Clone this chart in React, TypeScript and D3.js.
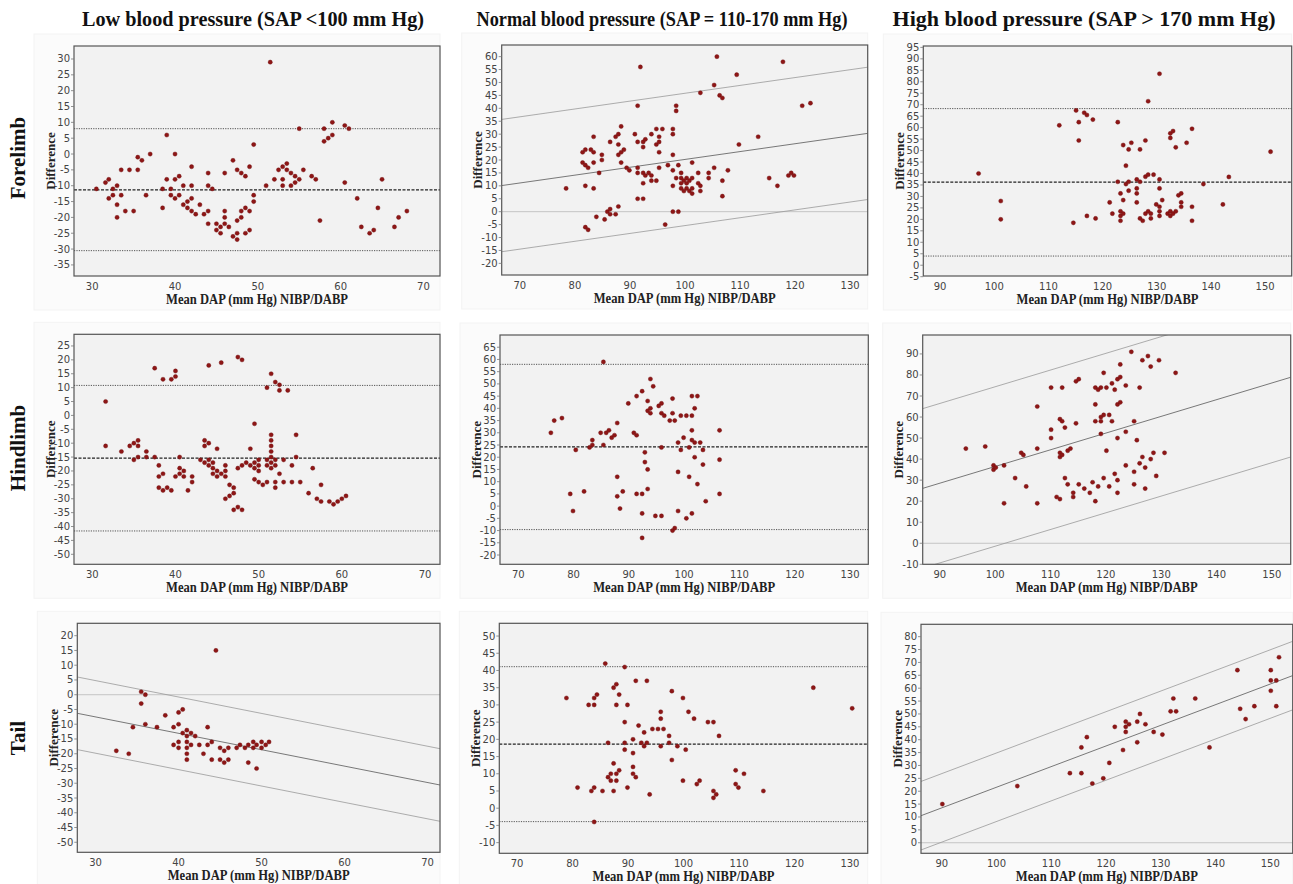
import React from "react";
import * as d3 from "d3";

const width = 1293;
const height = 884;

// column / row headings
const columnTitles = [
  "Low blood pressure (SAP <100 mm Hg)",
  "Normal blood pressure (SAP = 110-170 mm Hg)",
  "High blood pressure (SAP > 170 mm Hg)"
];
const rowTitles = ["Forelimb", "Hindlimb", "Tail"];

// x tick labels per column
const xTicksLow = [30, 40, 50, 60, 70];
const xTicksNormal = [70, 80, 90, 100, 110, 120, 130];
const xTicksHigh = [90, 100, 110, 120, 130, 140, 150];

// points [mean, difference]
const foreLow = [
  [30.5, -11], [31.6, -9], [32, -8], [32, -14], [32.5, -11], [32.5, -13], [33, -10], [33, -16], [33, -20],
  [33.5, -5], [33.5, -13], [34, -18], [34.5, -5], [35, -18], [35.5, -1], [35.5, -5], [36, -2], [36.5, -13],
  [37, 0], [38.5, -17], [38.5, -11], [39, 6], [39, -8], [39.5, -11], [39.5, -13], [40, 0], [40, -8], [40, -14],
  [40.5, -7], [40.5, -13], [41, -10], [41, -16], [41.5, -15], [41.5, -17], [42, -4], [42, -10], [42, -14],
  [42, -18], [42.5, -19], [43, -16], [43.5, -19], [44, -6], [44, -10], [44, -18], [44, -22], [44.5, -11],
  [45, -22], [45, -24], [45.5, -23], [45.5, -25], [46, -6], [46, -18], [46, -20], [46, -22], [46.5, -23],
  [47, -2], [47, -26], [47.5, -5], [47.5, -21], [47.5, -25], [47.5, -27], [48, -6], [48, -18], [48, -20],
  [48.5, -7], [48.5, -17], [48.5, -25], [49, -4], [49, -18], [49, -24], [49.5, 3], [49.5, -13], [49.5, -15],
  [51.5, 29], [51, -10], [52, -8], [52.5, -5], [53, -4], [53, -8], [53, -10], [53.5, -3], [53.5, -5], [54, -6],
  [54, -10], [54.5, -7], [54.5, -9], [55, -8], [55, 8], [55.5, -5], [56.5, -7], [57, -8], [57.5, -21], [58, 8],
  [58, 4], [58.5, 5], [59, 6], [59, 10], [60.5, 9], [60.5, -9], [61, 8], [62, -14], [62.5, -23], [63.5, -25],
  [64, -24], [64.5, -17], [65, -8], [66.5, -23], [67, -20], [68, -18]
];
const foreNormal = [
  [78.4, 9], [81.4, 23], [81.4, 19], [81.9, 24], [81.9, 18], [81.9, 10], [81.9, -6], [82.4, 17], [82.4, -7],
  [82.9, 24], [83.4, 29], [83.4, 23], [83.4, 19], [83.4, 9], [83.9, -2], [84.4, 15], [84.9, 22], [84.9, 20],
  [85.4, -3], [85.9, 0], [86.4, 27], [86.4, 1], [86.4, -1], [87.4, 29], [87.4, -1], [87.9, 30], [87.9, 26],
  [87.9, 22], [87.9, 2], [88.4, 33], [88.4, 23], [88.4, 19], [88.9, 24], [89.4, 17], [89.9, 16], [90.9, 30],
  [91.4, 41], [91.4, 27], [91.4, 17], [91.4, 15], [91.4, 5], [91.9, 56], [92.4, 27], [92.4, 25], [92.4, 15],
  [92.4, 11], [92.4, 5], [92.8, 28], [92.8, 14], [93.4, 15], [93.9, 30], [93.9, 14], [93.9, 12], [94.8, 32],
  [94.8, 26], [94.8, 12], [95.3, 29], [95.3, 27], [95.3, 23], [95.3, 17], [95.9, 32], [96.4, -5], [96.9, 18],
  [97.8, 32], [97.8, 30], [97.8, 22], [97.8, 16], [97.8, 10], [97.8, 0], [98.4, 41], [98.4, 39], [98.4, 13],
  [98.8, 18], [98.8, 0], [99.3, 15], [99.3, 13], [99.3, 11], [99.3, 9], [99.8, 12], [99.8, 8], [100.3, 13],
  [100.3, 11], [100.3, 9], [100.8, 12], [100.8, 8], [101.3, 19], [101.3, 13], [101.3, 9], [101.3, 7],
  [102.4, 15], [102.4, 11], [102.8, 46], [102.8, 10], [102.8, 8], [104.3, 15], [104.3, 13], [105.3, 49],
  [105.3, 17], [105.8, 60], [106.3, 45], [106.8, 44], [106.8, 12], [106.8, 6], [107.8, 16], [109.4, 53],
  [109.8, 26], [113.3, 29], [115.3, 13], [116.8, 10], [117.8, 58], [118.8, 14], [119.3, 15], [119.8, 14],
  [121.3, 41], [122.8, 42]
];
const foreHigh = [
  [97.1, 40], [101.2, 28], [101.2, 20], [112, 61], [114.6, 18.5], [115.1, 67.5], [115.6, 62.4], [115.6, 54.4],
  [116.6, 66.5], [117.1, 65.5], [117.1, 21.5], [118.2, 63.5], [118.7, 20.4], [121.3, 27.4], [121.8, 22.5],
  [122.8, 62.4], [122.8, 36.4], [123.3, 31.3], [123.3, 23.5], [123.3, 21.5], [123.3, 19.4], [123.8, 28.4],
  [123.8, 52.4], [123.8, 22.5], [124.3, 43.4], [124.3, 35.4], [124.8, 50.5], [124.8, 32.5], [124.8, 36.4],
  [125.3, 53.4], [126.3, 27.4], [126.3, 31.3], [126.3, 33.5], [126.3, 37.4], [126.9, 50.5], [126.9, 36.4],
  [126.9, 20.4], [127.4, 19.4], [127.9, 54.4], [127.9, 38.6], [127.9, 22.5], [128.4, 71.5], [128.4, 39.5],
  [128.4, 23.5], [128.9, 22.5], [128.9, 20.4], [129.4, 39.5], [129.9, 26.5], [130.5, 37.4], [130.5, 33.5],
  [130.5, 25.5], [130.5, 23.5], [130.5, 21.5], [130.5, 83.5], [131, 28.4], [132, 22.5], [132.5, 55.5],
  [132.5, 57.5], [132.5, 23.5], [132.5, 21.5], [133, 58.5], [133, 22.5], [133.5, 51.4], [133.5, 23.5],
  [134, 30.5], [134.5, 31.3], [134.5, 27.4], [134.5, 25.5], [135.5, 53.4], [136.5, 59.5], [136.5, 25.5],
  [136.5, 19.4], [138.6, 35.4], [142.2, 26.5], [143.3, 38.5], [151, 49.5]
];
const hindLow = [
  [31.6, 5], [31.6, -11], [33.5, -13], [34.5, -11], [35, -10], [35, -16], [35.5, -9], [35.5, -11], [35.5, -15],
  [36.5, -13], [36.5, -15], [37.5, 17], [37.5, -15], [38, -18], [38, -22], [38, -26], [38.5, 13], [38.5, -21],
  [38.5, -27], [39, -26], [39.5, 13], [39.5, -27], [40, 16], [40, 14], [40, -22], [40.5, -15], [40.5, -19],
  [40.5, -21], [41, -20], [41, -22], [41.5, -27], [42, -22], [42, -24], [43, -16], [43.5, -9], [43.5, -11],
  [43.5, -17], [44, 18], [44, -10], [44, -16], [44, -18], [44.5, -17], [44.5, -19], [44.5, -21], [45, -12],
  [45, -20], [45, -22], [45.5, 19], [45.5, -21], [46, -18], [46, -20], [46, -22], [46, -30], [46.5, -25],
  [46.5, -29], [47, -26], [47, -28], [47, -34], [47.5, 21], [47.5, -19], [47.5, -33], [48, 20], [48, -18],
  [48, -34], [48.5, -17], [49, -12], [49, -18], [49.5, -3], [49.5, -17], [49.5, -19], [49.5, -23], [50, -16],
  [50, -18], [50, -20], [50, -24], [50.5, -25], [51, 10], [51, -16], [51, -18], [51, -24], [51.5, 15],
  [51.5, -7], [51.5, -9], [51.5, -11], [51.5, -13], [51.5, -15], [51.5, -17], [51.5, -19], [52, 12], [52, -16],
  [52, -18], [52, -24], [52, -26], [52.5, 11], [52.5, 9], [52.5, -21], [53, -16], [53, -24], [53.5, 9],
  [54, -18], [54, -24], [54.5, -7], [54.5, -15], [55, -24], [56, -28], [56.5, -19], [57, -30], [57.5, -25],
  [57.5, -31], [58.5, -31], [59, -32], [59.5, -31], [60, -30], [60.5, -29]
];
const hindNormal = [
  [75.9, 30], [76.5, 35], [77.9, 36], [79.4, 5], [79.9, -2], [80.4, 23], [81.9, 6], [82.9, 24], [83.4, 27],
  [83.4, 25], [84.9, 30], [85.4, 59], [85.4, 25], [85.9, 30], [86.4, 31], [86.9, 28], [87.4, 29], [87.9, 34],
  [87.9, 12], [87.9, 4], [88.4, -1], [88.9, 6], [89.9, 42], [90.9, 30], [91.4, 45], [91.4, 29], [91.4, 5],
  [92.4, 47], [92.4, 5], [92.4, -3], [92.4, -13], [92.9, 22], [92.9, 18], [93.4, 43], [93.4, 39], [93.4, 15],
  [93.4, 7], [93.9, 52], [93.9, 40], [93.9, 38], [94.4, 49], [94.8, -4], [95.4, 41], [95.9, 42], [95.9, 38],
  [95.9, 24], [95.9, -4], [96.4, 37], [97.4, 35], [97.9, 44], [97.9, 38], [97.9, -10], [98.3, 35], [98.3, -9],
  [98.9, 26], [98.9, 14], [98.9, -2], [99.4, 37], [99.4, 23], [99.9, 28], [100.4, 37], [100.4, -5],
  [100.9, 24], [100.9, 12], [101.4, 45], [101.4, 37], [101.4, 31], [101.4, 27], [101.4, -3], [101.9, 40],
  [101.9, 26], [101.9, 20], [102.4, 45], [102.4, 9], [102.9, 26], [103.4, 23], [103.4, 17], [103.9, 2],
  [106.4, 31], [106.4, 19], [106.4, 5]
];
const hindHigh = [
  [94.7, 45], [98.2, 46], [99.7, 37], [99.7, 35], [100.1, 36], [101.6, 37], [101.6, 19], [103.6, 31],
  [104.7, 43], [105.1, 42], [105.6, 27], [107.6, 65], [107.6, 45], [107.6, 19], [110.1, 74], [110.1, 54],
  [110.1, 50], [111.1, 22], [111.7, 59], [111.7, 43], [111.7, 41], [111.7, 21], [112.1, 58], [112.1, 74],
  [112.1, 42], [112.6, 55], [112.6, 31], [113.1, 44], [113.1, 28], [113.6, 45], [114.1, 24], [114.1, 22],
  [114.6, 77], [114.6, 57], [115.1, 78], [115.1, 28], [116.1, 26], [117.1, 24], [117.6, 29], [118.1, 66],
  [118.1, 74], [118.1, 58], [118.1, 20], [118.6, 73], [118.6, 27], [119.1, 60], [119.1, 58], [119.1, 52],
  [119.1, 74], [119.6, 81], [119.6, 61], [119.6, 31], [120.1, 74], [120.1, 44], [120.6, 61], [120.6, 27],
  [121.1, 76], [121.1, 58], [121.6, 73], [121.6, 33], [122.1, 78], [122.1, 66], [122.1, 50], [122.1, 30],
  [122.1, 24], [122.6, 85], [122.6, 79], [122.6, 67], [123.6, 75], [123.6, 53], [123.6, 37], [124.6, 91],
  [125.1, 58], [125.1, 34], [125.1, 28], [125.6, 49], [126.1, 74], [126.1, 38], [126.6, 87], [126.6, 41],
  [127.1, 36], [127.1, 26], [127.6, 89], [128.1, 84], [128.1, 40], [128.6, 43], [129.1, 32], [129.6, 87],
  [130.6, 43], [132.6, 81]
];
const tailLow = [
  [32.5, -19], [34, -20], [34.5, -11], [35.5, 1], [35.5, -3], [36, 0], [36, -10], [37.4, -11], [38.4, -7],
  [39.4, -11], [39.4, -17], [40, -6], [40, -10], [40, -16], [40, -18], [40.5, -5], [40.5, -13], [41, -12],
  [41, -14], [41, -16], [41, -18], [41, -20], [41, -22], [41.5, -13], [41.5, -17], [42, -14], [42.5, -17],
  [43, -20], [43.5, -11], [43.5, -17], [44, -16], [44, -22], [44.5, 15], [45, -18], [45, -22], [45.5, -19],
  [45.5, -23], [46, -18], [46, -22], [47, -18], [47.4, -17], [48, -18], [48.4, -17], [48.4, -23], [49, -16],
  [49, -18], [49.4, -17], [49.4, -25], [50, -16], [50, -18], [50.5, -17], [50.9, -16]
];
const tailNormal = [
  [78.9, 32], [80.9, 6], [82.9, 30], [83.4, 5], [83.9, 32], [83.9, 30], [83.9, 6], [83.9, -4], [84.4, 33],
  [85.4, 5], [85.9, 42], [86.4, 19], [86.4, 9], [86.9, 10], [86.9, 8], [87.4, 35], [87.4, 13], [87.4, 5],
  [87.9, 36], [87.9, 30], [87.9, 10], [87.9, 8], [88.4, 33], [88.4, 11], [89.4, 41], [89.4, 25], [89.4, 19],
  [89.4, 17], [89.9, 30], [89.9, 6], [90.9, 20], [90.9, 16], [90.9, 12], [90.9, 10], [91.4, 37], [91.4, 9],
  [91.9, 24], [92.4, 19], [92.9, 22], [92.9, 18], [93.4, 37], [93.4, 19], [93.9, 4], [94.4, 23], [95.4, 23],
  [95.9, 28], [95.9, 26], [95.9, 18], [96.4, 23], [97.4, 21], [97.4, 19], [97.9, 34], [97.9, 14], [98.9, 18],
  [99.9, 32], [99.9, 8], [100.4, 17], [100.9, 28], [101.9, 26], [102.4, 7], [102.9, 8], [104.4, 25],
  [105.4, 25], [105.4, 5], [105.4, 3], [105.9, 4], [106.4, 21], [109.4, 11], [109.4, 7], [109.9, 6],
  [110.9, 10], [114.4, 5], [123.4, 35], [130.4, 29]
];
const tailHigh = [
  [90.1, 15], [103.8, 22], [113.4, 27], [115.5, 37], [115.5, 27], [116.5, 41], [117.5, 23], [119.5, 25],
  [120.6, 31], [121.6, 45], [123.1, 36], [123.6, 47], [123.6, 45], [123.6, 43], [124.2, 46], [125.7, 47],
  [125.7, 39], [126.2, 50], [127.2, 46], [128.7, 43], [130.3, 42], [131.8, 51], [132.3, 56], [132.8, 51],
  [136.3, 56], [138.9, 37], [144, 67], [144.5, 52], [145.5, 48], [147.1, 53], [150.1, 67], [150.1, 63],
  [150.1, 59], [151.1, 63], [151.1, 53], [151.6, 72]
];

// horizontal bias lines [mean, lower, upper]
const foreLowBias = [-11.3, -30.5, 8.0];
const foreHighBias = [36.2, 4.0, 68.3];
const hindLowBias = [-15.4, -41.6, 10.8];
const hindNormalBias = [24.2, -9.6, 58.0];
const tailNormalBias = [18.6, -3.9, 41.1];

// regression bias lines [intercept, slope, limit offset]
const foreNormalFit = [-10.16, 0.3038, 25.6];
const hindHighFit = [-42.9, 0.794, 37.9];
const tailLowFit = [9.16, -0.556, 12.3];
const tailHighFit = [-58.55, 0.801, 13.3];

const panels = [
  { row: 0, col: 0, box: [74, 46, 440, 276], xd: [27.8, 72], yd: [-38.5, 34.1], yt: [-35, 30, 5], xt: xTicksLow, pts: foreLow, bias: foreLowBias },
  { row: 0, col: 1, box: [501.7, 45, 867.7, 275], xd: [66.7, 133.2], yd: [-24.5, 64.5], yt: [-20, 60, 5], xt: xTicksNormal, pts: foreNormal, fit: foreNormalFit },
  { row: 0, col: 2, box: [923.3, 46, 1291.7, 276], xd: [86.9, 154.9], yd: [-4.7, 95.6], yt: [-5, 95, 5], xt: xTicksHigh, pts: foreHigh, bias: foreHighBias },
  { row: 1, col: 0, box: [74, 334.3, 440, 564.3], xd: [27.8, 71.8], yd: [-53.6, 29.2], yt: [-50, 25, 5], xt: xTicksLow, pts: hindLow, bias: hindLowBias },
  { row: 1, col: 1, box: [500, 335, 868.3, 564.3], xd: [66.7, 133.3], yd: [-23.8, 70], yt: [-20, 65, 5], xt: xTicksNormal, pts: hindNormal, bias: hindNormalBias },
  { row: 1, col: 2, box: [922.7, 335, 1290.7, 564.3], xd: [86.9, 153.4], yd: [-10, 99], yt: [-10, 90, 10], xt: xTicksHigh, pts: hindHigh, fit: hindHighFit },
  { row: 2, col: 0, box: [77.3, 623.3, 440, 852.3], xd: [27.8, 71.5], yd: [-53.4, 24.2], yt: [-50, 20, 5], xt: xTicksLow, pts: tailLow, fit: tailLowFit },
  { row: 2, col: 1, box: [499.3, 623.3, 867.7, 853.3], xd: [66.8, 133.2], yd: [-13.1, 53.7], yt: [-10, 50, 5], xt: xTicksNormal, pts: tailNormal, bias: tailNormalBias },
  { row: 2, col: 2, box: [921, 624.3, 1292.7, 853.3], xd: [86.2, 154.1], yd: [-4.1, 84.8], yt: [0, 80, 5], xt: xTicksHigh, pts: tailHigh, fit: tailHighFit }
];

const titleX = [253, 662, 1084];
const titleLen = [342, 371, 383];
const rowY = [158, 448, 738];

const serif = "'Liberation Serif', 'DejaVu Serif', serif";
const sans = "'DejaVu Sans', 'Open Sans', sans-serif";

function Panel({ p }: { p: any }) {
  const [l, t, r, b] = p.box;
  const x = d3.scaleLinear().domain(p.xd).range([l, r]);
  const y = d3.scaleLinear().domain(p.yd).range([b, t]);
  const yTicks = d3.range(p.yt[0], p.yt[1] + 0.1, p.yt[2]);
  const id = `clip${p.row}${p.col}`;

  const lines: any[] = [];
  if (p.bias) {
    const [m, lo, hi] = p.bias;
    lines.push(<line key="m" x1={l} x2={r} y1={y(m)} y2={y(m)} stroke="#222" strokeWidth={1.2} strokeDasharray="3,1.5" />);
    lines.push(<line key="lo" x1={l} x2={r} y1={y(lo)} y2={y(lo)} stroke="#555" strokeWidth={1} strokeDasharray="1.2,1.2" />);
    lines.push(<line key="hi" x1={l} x2={r} y1={y(hi)} y2={y(hi)} stroke="#555" strokeWidth={1} strokeDasharray="1.2,1.2" />);
  }
  if (p.fit) {
    const [a, s, off] = p.fit;
    const f = (v: number, o: number) => a + s * v + o;
    lines.push(<line key="z" x1={l} x2={r} y1={y(0)} y2={y(0)} stroke="#c4c4c4" strokeWidth={1} />);
    [[0, "#6a6a6a", 0.9], [off, "#999", 0.8], [-off, "#999", 0.8]].forEach(([o, c, w]: any, i) => {
      lines.push(
        <line key={"f" + i} x1={x(p.xd[0])} x2={x(p.xd[1])} y1={y(f(p.xd[0], o))} y2={y(f(p.xd[1], o))}
          stroke={c} strokeWidth={w} clipPath={`url(#${id})`} />
      );
    });
  }

  const cx = (l + Math.min(r, width)) / 2;

  return (
    <g>
      <rect x={l - 40} y={t - 12} width={Math.min(r, width) - l + 40} height={b - t + 46} fill="#fbfbfb" stroke="#f3f3f3" />
      <defs>
        <clipPath id={id}>
          <rect x={l} y={t} width={r - l} height={b - t} />
        </clipPath>
      </defs>
      <rect x={l} y={t} width={r - l} height={b - t} fill="#f2f2f2" />
      {lines}
      {p.pts.map((d: number[], i: number) => (
        <circle key={i} cx={x(d[0])} cy={y(d[1])} r={2.1} fill="#8e1616" stroke="#6e0f0f" strokeWidth={0.4} />
      ))}
      <rect x={l} y={t} width={r - l} height={b - t} fill="none" stroke="#555" strokeWidth={1.2} />
      {yTicks.map((v) => (
        <g key={v}>
          <line x1={l - 3} x2={l} y1={y(v)} y2={y(v)} stroke="#777" strokeWidth={0.8} />
          <text x={l - 4} y={y(v)} dy="0.35em" textAnchor="end" fontFamily={sans} fontSize={10} fill="#444">{v}</text>
        </g>
      ))}
      {p.xt.map((v: number) => (
        <text key={v} x={x(v)} y={b + 14} textAnchor="middle" fontFamily={sans} fontSize={10} fill="#444">{v}</text>
      ))}
      <text x={cx} y={b + 28} textAnchor="middle" fontFamily={serif} fontWeight="bold" fontSize={14.5} fill="#222"
        textLength={182} lengthAdjust="spacingAndGlyphs">
        Mean DAP (mm Hg) NIBP/DABP
      </text>
      <text transform={`translate(${l - 24},${(t + b) / 2}) rotate(-90)`} textAnchor="middle" dy="0.35em" fontFamily={serif} fontWeight="bold" fontSize={13} fill="#222">
        Difference
      </text>
    </g>
  );
}

export default function App() {
  return (
    <svg width={width} height={height} style={{ position: "absolute", left: 0, top: 0, background: "#fff" }}>
      {columnTitles.map((s, i) => (
        <text key={s} x={titleX[i]} y={26} textAnchor="middle" fontFamily={serif} fontWeight="bold" fontSize={20}
          textLength={titleLen[i]} lengthAdjust="spacingAndGlyphs" fill="#111">{s}</text>
      ))}
      {rowTitles.map((s, i) => (
        <text key={s} transform={`translate(18,${rowY[i]}) rotate(-90)`} textAnchor="middle" dy="0.35em" fontFamily={serif}
          fontWeight="bold" fontSize={21} fill="#111">{s}</text>
      ))}
      {panels.map((p) => <Panel key={`${p.row}-${p.col}`} p={p} />)}
    </svg>
  );
}
